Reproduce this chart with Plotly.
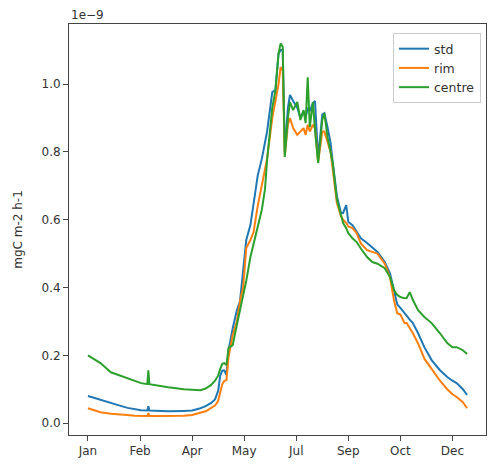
import plotly.graph_objects as go

days = [0, 6, 12, 22, 29, 38, 45, 51, 57, 58, 59, 68, 77, 92, 100, 108, 113, 118, 122, 125,
        127, 129, 131, 133, 135, 139, 143, 146, 149, 152, 156, 159, 163, 167, 170, 172, 177,
        180, 183, 185, 187, 189, 192, 194, 197, 201, 204, 207, 209, 211, 213, 216, 218, 221,
        225, 227, 230, 233, 235, 239, 243, 245, 248, 250, 254, 258, 262, 268, 273, 278, 285,
        290, 294, 297, 300, 304, 306, 309, 312, 317, 323, 330, 338, 345, 350, 354, 360, 364]

std = [0.080, 0.074, 0.068, 0.058, 0.053, 0.045, 0.041, 0.038, 0.037, 0.050, 0.037, 0.036,
       0.035, 0.036, 0.037, 0.044, 0.050, 0.059, 0.070, 0.095, 0.140, 0.155, 0.155, 0.142,
       0.215, 0.280, 0.333, 0.360, 0.450, 0.540, 0.584, 0.649, 0.730, 0.780, 0.830, 0.860,
       0.976, 0.982, 1.090, 1.100, 1.100, 0.800, 0.930, 0.968, 0.950, 0.930, 0.900, 0.920,
       0.900, 0.930, 0.920, 0.944, 0.950, 0.780, 0.910, 0.914, 0.873, 0.826, 0.770, 0.670,
       0.620, 0.620, 0.643, 0.593, 0.584, 0.565, 0.545, 0.531, 0.519, 0.505, 0.475, 0.442,
       0.390, 0.350, 0.340, 0.324, 0.315, 0.305, 0.295, 0.265, 0.224, 0.186, 0.156, 0.136,
       0.125, 0.118, 0.100, 0.083]

rim = [0.044, 0.038, 0.032, 0.028, 0.027, 0.024, 0.022, 0.021, 0.021, 0.030, 0.021, 0.021,
       0.021, 0.022, 0.024, 0.030, 0.035, 0.044, 0.052, 0.065, 0.095, 0.115, 0.125, 0.127,
       0.195, 0.260, 0.300, 0.360, 0.400, 0.516, 0.540, 0.563, 0.640, 0.700, 0.755, 0.780,
       0.900, 0.950, 1.000, 1.050, 1.040, 0.790, 0.880, 0.900, 0.870, 0.850, 0.860, 0.870,
       0.850, 0.880, 0.860, 0.880, 0.870, 0.770, 0.860, 0.860, 0.830, 0.800, 0.750, 0.650,
       0.610, 0.600, 0.590, 0.580, 0.575, 0.560, 0.530, 0.510, 0.505, 0.500, 0.470, 0.431,
       0.360, 0.324, 0.320, 0.295, 0.295, 0.280, 0.265, 0.235, 0.190, 0.160, 0.125, 0.100,
       0.085, 0.077, 0.062, 0.044]

centre = [0.200, 0.188, 0.177, 0.150, 0.142, 0.133, 0.125, 0.118, 0.115, 0.156, 0.115, 0.110,
          0.106, 0.100, 0.098, 0.097, 0.102, 0.112, 0.125, 0.140, 0.160, 0.175, 0.177, 0.171,
          0.222, 0.230, 0.290, 0.333, 0.383, 0.420, 0.490, 0.530, 0.578, 0.630, 0.690, 0.776,
          0.930, 0.980, 1.090, 1.120, 1.110, 0.785, 0.900, 0.947, 0.923, 0.947, 0.894, 0.923,
          0.885, 1.020, 0.873, 0.947, 0.864, 0.767, 0.894, 0.914, 0.844, 0.800, 0.767, 0.660,
          0.610, 0.590, 0.575, 0.560, 0.545, 0.534, 0.515, 0.490, 0.475, 0.470, 0.457, 0.431,
          0.392, 0.378, 0.372, 0.368, 0.369, 0.386, 0.363, 0.333, 0.313, 0.295, 0.265, 0.236,
          0.224, 0.224, 0.215, 0.204]

tick_days = [0, 50, 100, 150, 200, 250, 300, 350]
tick_labels = ["Jan", "Feb", "Apr", "May", "Jul", "Sep", "Oct", "Dec"]
y_ticks = [0.0, 0.2, 0.4, 0.6, 0.8, 1.0]

series = [("std", std, "#1f77b4"), ("rim", rim, "#ff7f0e"), ("centre", centre, "#2ca02c")]

fig = go.Figure()
for name, vals, col in series:
    fig.add_trace(go.Scatter(x=days, y=vals, mode="lines", name=name,
                             line=dict(color=col, width=2)))

axis_common = dict(showline=True, linecolor="#444", linewidth=1, mirror=True,
                   ticks="outside", ticklen=5, tickcolor="#444", showgrid=False,
                   zeroline=False, tickfont=dict(family="DejaVu Sans", size=12, color="#333"))

fig.update_layout(
    width=488, height=467,
    margin=dict(l=69, r=2, t=24, b=32),
    paper_bgcolor="white", plot_bgcolor="white",
    font=dict(family="DejaVu Sans", size=12, color="#333"),
    xaxis=dict(range=[-18.2, 382.2], tickvals=tick_days, ticktext=tick_labels, **axis_common),
    yaxis=dict(range=[-0.035, 1.177], tickvals=y_ticks, tickformat=".1f",
               title=dict(text="mgC m-2 h-1", standoff=16, font=dict(size=12)), **axis_common),
    legend=dict(x=0.988, y=0.978, xanchor="right", yanchor="top",
                bordercolor="#ccc", borderwidth=1, bgcolor="rgba(255,255,255,0.8)",
                font=dict(size=12.5), tracegroupgap=0),
    showlegend=True,
    annotations=[dict(text="1e\u22129", xref="paper", yref="paper", x=0, y=1,
                      xanchor="left", yanchor="bottom", showarrow=False,
                      font=dict(size=12, color="#333"))],
)

fig.write_html("out.html", config={"displayModeBar": False},
               post_script="document.body.style.margin='0';document.body.style.overflow='hidden';")
